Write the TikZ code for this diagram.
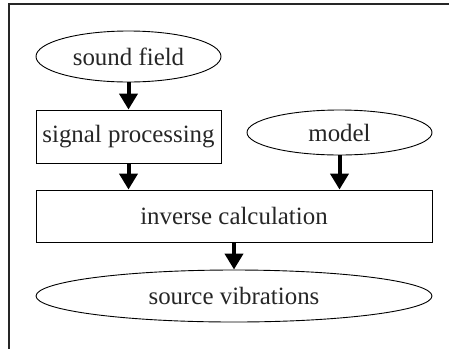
\documentclass[tikz,border=0pt]{standalone}
\usepackage{fontspec}
\setmainfont{Liberation Serif}
\usetikzlibrary{shapes.geometric,arrows.meta}

\tikzset{
  blob/.style={ellipse, draw=black, line width=0.9pt, text=black!85,
    font=\fontsize{24.9}{29}\selectfont, inner sep=0pt},
  stage/.style={rectangle, draw=black, line width=0.9pt, text=black!85,
    font=\fontsize{24.9}{29}\selectfont, inner sep=0pt},
  flow/.style={line width=4pt, -{Triangle[width=18pt,length=16pt]}}
}

\begin{document}
\begin{tikzpicture}[x=1pt,y=-1pt]
\useasboundingbox (0,0) rectangle (449,349);

% Frame, cut off on the right and at the bottom
\draw[line width=1.2pt, black!85] (449,4) -- (9,4) -- (9,349);

% Inputs
\node[blob, minimum width=185pt, minimum height=51pt] (sound) at (128.5,56.5) {sound field};
\node[stage, minimum width=185pt, minimum height=53pt] (signal) at (128.5,136.5) {signal processing};
\node[blob, minimum width=185pt, minimum height=45pt] (model) at (339.5,132.5) {model};

% Calculation and result
\node[stage, minimum width=396pt, minimum height=52pt] (inverse) at (234,216) {inverse calculation};
\node[blob, minimum width=396pt, minimum height=52pt] (source) at (234,296) {source vibrations};

% Arrows
\draw[flow] (sound) -- (signal);
\draw[flow] (signal) -- (signal |- inverse.north);
\draw[flow] (model) -- (model |- inverse.north);
\draw[flow] (inverse) -- (source);
\end{tikzpicture}
\end{document}
